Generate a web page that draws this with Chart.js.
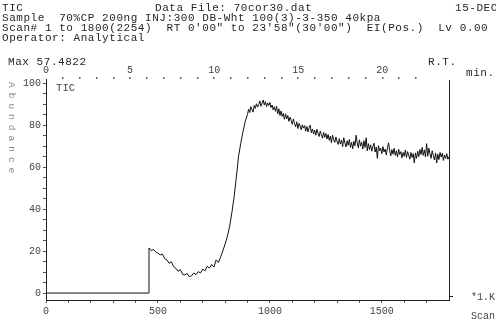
<!DOCTYPE html>
<html>
<head>
<meta charset="utf-8">
<script src="https://cdn.jsdelivr.net/npm/chart.js@4.4.1/dist/chart.umd.min.js"></script>
<style>
  html, body { margin: 0; padding: 0; background: #fff; }
  #wrap { position: relative; width: 496px; height: 323px; }
</style>
</head>
<body>
<div id="wrap"><canvas id="c"></canvas></div>
<script>
// Total ion chromatogram: flat baseline, a rising section sampled every 10 scans,
// then the noisy plateau sampled every 5 scans
const baselineScans = [1, 456];
const baselineValues = [0, 0];
const riseStart = 460, riseStep = 10;
const riseValues = [
  21.5, 20.2, 20.8, 19.6, 19.0, 18.2, 18.6, 16.4, 15.8, 14.2,
  14.9, 12.6, 11.8, 10.4, 11.2, 9.0, 8.6, 9.4, 7.8, 8.2,
  9.6, 8.8, 10.2, 9.6, 11.4, 10.6, 12.8, 11.9, 13.6, 12.4,
  15.8, 14.6, 17.2, 20.1, 23.4, 27.0, 31.6, 38.2, 45.6, 55.0,
  65.2, 71.4, 77.0, 81.8
];
const plateauStart = 900, plateauStep = 5;
const plateauValues = [
  85.2, 87.6, 86.0, 88.8, 87.4, 86.2, 89.4, 88.0, 90.2, 88.6,
  89.8, 91.6, 89.0, 90.4, 92.0, 89.6, 91.2, 88.8, 90.6, 89.4,
  90.8, 88.4, 89.6, 87.2, 88.8, 86.6, 89.0, 85.4, 87.8, 84.6,
  86.8, 84.2, 85.6, 82.8, 85.4, 83.0, 84.6, 81.8, 83.8, 82.2,
  80.4, 83.0, 80.8, 79.2, 81.6, 78.4, 80.8, 79.6, 77.8, 80.2,
  78.6, 79.8, 77.2, 79.4, 76.8, 78.8, 80.0, 76.4, 78.2, 75.8,
  77.6, 75.2, 78.0, 76.0, 74.6, 77.2, 75.4, 73.8, 76.6, 74.2,
  76.0, 73.4, 75.6, 72.8, 74.8, 71.6, 75.2, 73.0, 71.8, 74.4,
  72.2, 70.8, 73.6, 71.0, 72.8, 69.8, 74.0, 71.4, 69.6, 72.6,
  70.4, 73.2, 69.4, 71.8, 68.8, 72.4, 70.2, 75.2, 71.6, 69.2,
  73.0, 70.0, 71.8, 68.6, 72.6, 69.4, 74.0, 67.8, 71.2, 68.4,
  70.6, 67.6, 69.8, 71.4, 67.2, 69.6, 64.2, 70.2, 67.8, 69.0,
  66.4, 69.8, 67.2, 68.6, 65.8, 69.2, 71.6, 68.0, 65.4, 68.4,
  66.2, 69.0, 65.6, 67.8, 64.8, 68.6, 66.0, 67.4, 64.4, 67.0,
  65.2, 68.2, 64.6, 67.4, 65.8, 63.8, 67.0, 64.6, 66.4, 62.0,
  66.8, 64.2, 67.6, 65.0, 68.4, 66.0, 69.4, 65.6, 68.2, 64.8,
  71.2, 65.2, 69.0, 66.4, 64.2, 67.8, 65.6, 63.4, 66.8, 62.0,
  66.2, 63.6, 67.0, 64.8, 66.6, 63.2, 65.8, 64.2, 66.4, 63.8,
  65.0
];
const scanTickLabels = [0, 500, 1000, 1500];
const minuteTickLabels = [0, 5, 10, 15, 20];
const abundanceTickLabels = [0, 20, 40, 60, 80, 100];

const headerLines = [
  { text: 'TIC', x: 2, y: 11 },
  { text: 'Data File: 70cor30.dat', x: 155, y: 11 },
  { text: '15-DEC', x: 455, y: 11 },
  { text: 'Sample  70%CP 200ng INJ:300 DB-Wht 100(3)-3-350 40kpa', x: 2, y: 21 },
  { text: 'Scan# 1 to 1800(2254)  RT 0\'00" to 23\'58"(30\'00")  EI(Pos.)  Lv 0.00', x: 2, y: 31 },
  { text: 'Operator: Analytical', x: 2, y: 41 },
  { text: 'Max 57.4822', x: 8, y: 65 },
  { text: 'R.T.', x: 428, y: 65 },
  { text: 'min.', x: 466, y: 76 }
];

const points = [];
baselineScans.forEach((s, i) => points.push({ x: s, y: baselineValues[i] }));
riseValues.forEach((v, i) => points.push({ x: riseStart + i * riseStep, y: v }));
plateauValues.forEach((v, i) => points.push({ x: plateauStart + i * plateauStep, y: v }));

// minor tick positions on the abundance axis, every 5 units
const abundanceTicks = [];
for (let v = 0; v <= 100; v += 5) abundanceTicks.push(v);

const MONO = '"Liberation Mono", "DejaVu Sans Mono", monospace';

const annotate = {
  id: 'annotate',
  afterDraw(chart) {
    const ctx = chart.ctx;
    const area = chart.chartArea;
    const xs = chart.scales.x;
    const ys = chart.scales.y;
    ctx.save();
    ctx.fillStyle = '#262626';
    ctx.font = '11px ' + MONO;
    ctx.letterSpacing = '0.55px';
    ctx.textBaseline = 'alphabetic';
    headerLines.forEach(h => ctx.fillText(h.text, h.x, h.y));

    // right frame line with its small tick
    ctx.strokeStyle = '#222';
    ctx.lineWidth = 1;
    ctx.beginPath();
    ctx.moveTo(area.right + 0.5, area.top + 1);
    ctx.lineTo(area.right + 0.5, area.bottom);
    ctx.moveTo(area.right, ys.getPixelForValue(-1.4) + 0.5);
    ctx.lineTo(area.right + 4, ys.getPixelForValue(-1.4) + 0.5);
    ctx.stroke();

    ctx.letterSpacing = '0px';
    ctx.font = '10px ' + MONO;
    ctx.fillStyle = '#444';
    ctx.fillText('*1.K', area.right + 22, area.bottom);
    ctx.fillText('Scan', area.right + 22, area.bottom + 19);

    // trace name inside the frame
    ctx.font = '10.5px ' + MONO;
    ctx.fillStyle = '#444';
    ctx.fillText('TIC', xs.getPixelForValue(45), ys.getPixelForValue(96.5));

    // rotated y title
    ctx.translate(9, 82);
    ctx.rotate(Math.PI / 2);
    ctx.font = '9.5px ' + MONO;
    ctx.fillStyle = '#888';
    ctx.letterSpacing = '5px';
    ctx.fillText('Abundance', 0, 0);
    ctx.restore();
  }
};

new Chart(document.getElementById('c'), {
  type: 'line',
  data: {
    datasets: [{
      label: 'TIC',
      data: points,
      borderColor: '#111',
      borderWidth: 1,
      pointRadius: 0,
      tension: 0,
      fill: false
    }]
  },
  options: {
    responsive: true,
    maintainAspectRatio: false,
    animation: false,
    layout: { padding: { left: 0, right: 47, top: 0, bottom: 0 } },
    plugins: { legend: { display: false }, tooltip: { enabled: false }, title: { display: false } },
    scales: {
      x: {
        type: 'linear',
        position: 'bottom',
        min: 0,
        max: 1800,
        afterFit: s => { s.height = 23; },
        border: { display: true, color: '#222', width: 1 },
        grid: {
          drawOnChartArea: false,
          drawTicks: true,
          tickLength: 3,
          color: ctx => (ctx.tick && ctx.tick.value % 100 === 0 && ctx.tick.value < 1800) ? '#555' : 'transparent'
        },
        ticks: {
          stepSize: 100,
          autoSkip: false,
          maxRotation: 0,
          padding: 2,
          color: '#444',
          font: { family: MONO, size: 10 },
          callback: v => scanTickLabels.includes(v) ? String(v) : ''
        }
      },
      rt: {
        type: 'linear',
        position: 'top',
        min: 0,
        max: 23.97,
        afterFit: s => { s.height = 79; },
        border: { display: false },
        grid: {
          drawOnChartArea: false,
          drawTicks: true,
          tickLength: 2,
          lineWidth: 1.5,
          color: ctx => (ctx.tick && Number.isInteger(ctx.tick.value) && ctx.tick.value > 0) ? '#666' : 'transparent'
        },
        ticks: {
          stepSize: 1,
          autoSkip: false,
          maxRotation: 0,
          padding: 1,
          color: '#444',
          font: { family: MONO, size: 10 },
          callback: v => minuteTickLabels.includes(v) ? String(v) : ''
        }
      },
      y: {
        type: 'linear',
        position: 'left',
        min: -3.3,
        max: 102,
        afterFit: s => { s.width = 46; },
        afterBuildTicks: s => { s.ticks = abundanceTicks.map(v => ({ value: v })); },
        border: { display: true, color: '#222', width: 1 },
        grid: {
          drawOnChartArea: false,
          drawTicks: true,
          tickLength: 3,
          color: '#555'
        },
        ticks: {
          autoSkip: false,
          padding: 2,
          color: '#444',
          font: { family: MONO, size: 10 },
          callback: v => abundanceTickLabels.includes(v) ? String(v) : ''
        }
      }
    }
  },
  plugins: [annotate]
});
</script>
</body>
</html>
